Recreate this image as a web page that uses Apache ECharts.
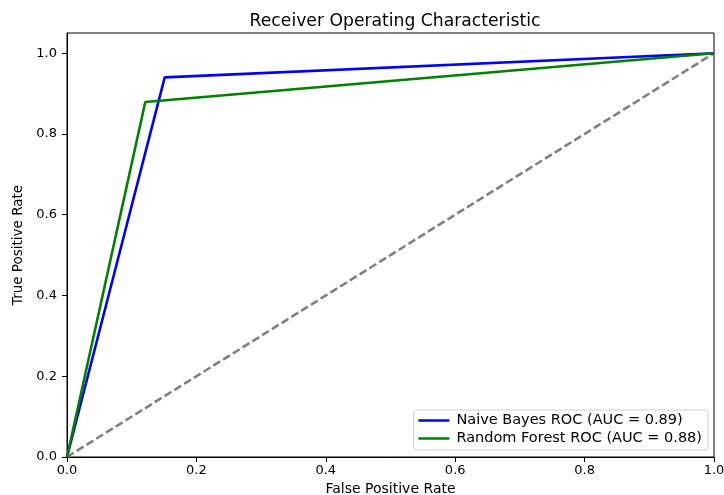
<!DOCTYPE html>
<html><head><meta charset="utf-8">
<script src="https://cdn.jsdelivr.net/npm/echarts@6/dist/echarts.min.js"></script>
<style>html,body{margin:0;padding:0;background:#fff}#c{width:724px;height:495px}</style>
</head><body><div id="c"></div>
<script>
const nbFpr = [0, 0.151, 1];
const nbTpr = [0, 0.940, 1];
const rfFpr = [0, 0.121, 1];
const rfTpr = [0, 0.879, 1];
const chanceX = [0, 1];
const chanceY = [0, 1];
const tickValues = [0, 0.2, 0.4, 0.6, 0.8, 1.0];
const nbName = 'Naive Bayes ROC (AUC = 0.89)';
const rfName = 'Random Forest ROC (AUC = 0.88)';

const zip = (a, b) => a.map((v, i) => [v, b[i]]);
const font = 'DejaVu Sans';
const chart = echarts.init(document.getElementById('c'));
chart.setOption({
  animation: false,
  title: {text: 'Receiver Operating Characteristic', left: 390, textAlign: 'center', top: 8,
    textStyle: {fontFamily: font, fontSize: 17.2, fontWeight: 'normal', color: '#000'}},
  grid: {left: 67, right: 10, top: 33, bottom: 38, outerBoundsMode: 'none', containLabel: false,
    show: true, borderColor: '#000', borderWidth: 1, backgroundColor: 'transparent'},
  legend: {orient: 'vertical', right: 16, bottom: 45, itemWidth: 31, itemHeight: 2.5, itemGap: 3, icon: 'rect',
    backgroundColor: '#fff', borderColor: '#d0d0d0', borderWidth: 1, borderRadius: 3, padding: [3, 6, 4, 5],
    textStyle: {fontFamily: font, fontSize: 14.5, color: '#000', padding: [0, 0, 0, 2]},
    data: [nbName, rfName]},
  xAxis: {type: 'value', min: 0, max: 1, interval: 0.2,
    name: 'False Positive Rate', nameLocation: 'middle', nameGap: 25,
    nameTextStyle: {fontFamily: font, fontSize: 14, color: '#000'},
    axisLine: {show: true, lineStyle: {color: '#000'}},
    axisTick: {show: true, length: 5, lineStyle: {color: '#000'}},
    axisLabel: {fontFamily: font, fontSize: 13, color: '#000', margin: 7, formatter: v => v.toFixed(1)},
    splitLine: {show: false}},
  yAxis: {type: 'value', min: 0, max: 1.05,
    name: 'True Positive Rate', nameLocation: 'middle', nameGap: 42,
    nameTextStyle: {fontFamily: font, fontSize: 13.5, color: '#000'},
    axisLine: {show: true, lineStyle: {color: '#000'}},
    axisTick: {show: true, length: 5, customValues: tickValues, lineStyle: {color: '#000'}},
    axisLabel: {fontFamily: font, fontSize: 13, color: '#000', margin: 10, customValues: tickValues, formatter: v => v.toFixed(1)},
    splitLine: {show: false}},
  series: [
    {name: nbName, type: 'line', data: zip(nbFpr, nbTpr), symbol: 'none', lineStyle: {color: '#0000ff', width: 2.6}, itemStyle: {color: '#0000ff'}, z: 3},
    {name: rfName, type: 'line', data: zip(rfFpr, rfTpr), symbol: 'none', lineStyle: {color: '#008000', width: 2.6}, itemStyle: {color: '#008000'}, z: 4},
    {name: 'chance', type: 'line', data: zip(chanceX, chanceY), symbol: 'none', lineStyle: {color: '#808080', width: 2.6, type: [8, 3.5]}, z: 2}
  ]
});
</script></body></html>
